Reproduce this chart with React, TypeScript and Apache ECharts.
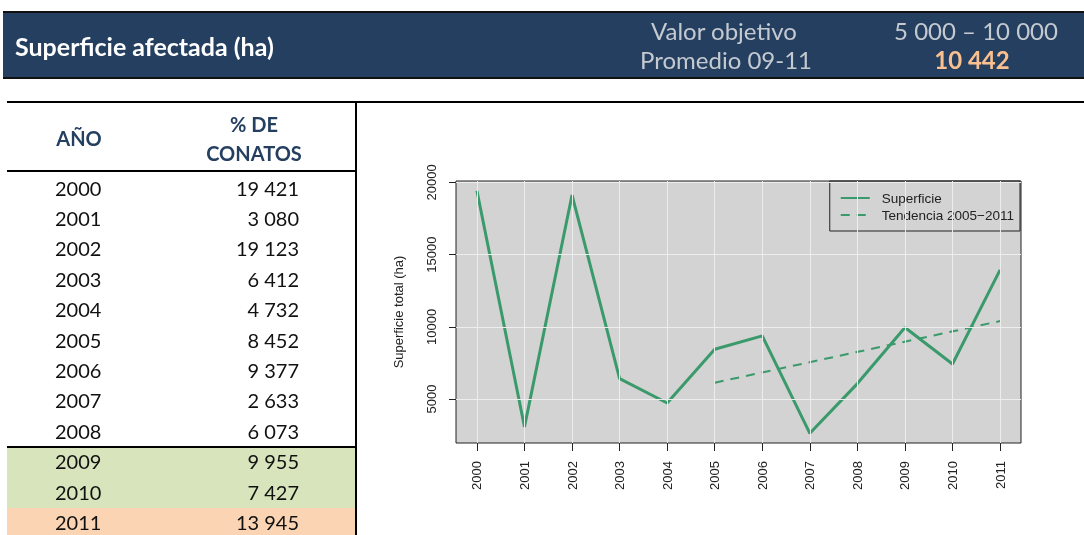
import React, { useEffect, useRef } from 'react';
import * as echarts from 'echarts';

const years = [2000, 2001, 2002, 2003, 2004, 2005, 2006, 2007, 2008, 2009, 2010, 2011];
const superficie = [19421, 3080, 19123, 6412, 4732, 8452, 9377, 2633, 6073, 9955, 7427, 13945];
const trendYears = [2005, 2011];
const trendValues = [6134, 10398];
const yTicks = [5000, 10000, 15000, 20000];

const headerTitle = 'Superficie afectada (ha)';
const objetivoLabel = 'Valor objetivo';
const objetivoValue = '5 000 – 10 000';
const promedioLabel = 'Promedio 09-11';
const promedioValue = '10 442';
const colHeaderYear = 'AÑO';
const colHeaderValue = ['% DE', 'CONATOS'];
const seriesName = 'Superficie';
const trendName = 'Tendencia 2005−2011';
const yAxisName = 'Superficie total (ha)';

const fmt = (v: number) => String(v).replace(/\B(?=(\d{3})+(?!\d))/g, ' ');

const NAVY = '#243f60';
const LINE = '#3b9a6b';
const TABLE_FONT = 'Lato, "Open Sans", sans-serif';
const CHART_FONT = '"Liberation Sans", Arial, sans-serif';

export default function App() {
  const ref = useRef<HTMLDivElement>(null);
  useEffect(() => {
    if (!ref.current) return;
    const chart = echarts.init(ref.current, null, { renderer: 'svg' });

    const rowY0 = 187.5;
    const rowStep = 30.4;

    const graphics: any[] = [
      // header bar
      { type: 'rect', shape: { x: 3, y: 11, width: 1081, height: 68 }, style: { fill: '#111' }, silent: true },
      { type: 'rect', shape: { x: 3, y: 13, width: 1081, height: 64 }, style: { fill: NAVY }, silent: true },
      { type: 'text', x: 15, y: 46, style: { text: headerTitle, fill: '#ffffff', font: `bold 25px ${TABLE_FONT}`, textVerticalAlign: 'middle' } },
      { type: 'text', x: 651, y: 30, style: { text: objetivoLabel, fill: '#c5cad1', font: `24px ${TABLE_FONT}`, textVerticalAlign: 'middle' } },
      { type: 'text', x: 640, y: 59, style: { text: promedioLabel, fill: '#c5cad1', font: `24px ${TABLE_FONT}`, textVerticalAlign: 'middle' } },
      { type: 'text', x: 976, y: 30, style: { text: objetivoValue, fill: '#c5cad1', font: `24px ${TABLE_FONT}`, textAlign: 'center', textVerticalAlign: 'middle' } },
      { type: 'text', x: 972, y: 59, style: { text: promedioValue, fill: '#fac090', font: `bold 24px ${TABLE_FONT}`, textAlign: 'center', textVerticalAlign: 'middle' } },
      // table structure
      { type: 'rect', shape: { x: 7, y: 448, width: 348, height: 60 }, style: { fill: '#d8e4bc' }, silent: true },
      { type: 'rect', shape: { x: 7, y: 508, width: 348, height: 27 }, style: { fill: '#fbd4b4' }, silent: true },
      { type: 'rect', shape: { x: 7, y: 101, width: 1077, height: 2 }, style: { fill: '#000' }, silent: true },
      { type: 'rect', shape: { x: 355, y: 101, width: 2, height: 434 }, style: { fill: '#000' }, silent: true },
      { type: 'rect', shape: { x: 7, y: 170, width: 350, height: 2 }, style: { fill: '#000' }, silent: true },
      { type: 'rect', shape: { x: 7, y: 446, width: 350, height: 2 }, style: { fill: '#000' }, silent: true },
      { type: 'text', x: 79, y: 138, style: { text: colHeaderYear, fill: NAVY, font: `bold 20px ${TABLE_FONT}`, textAlign: 'center', textVerticalAlign: 'middle' } },
      { type: 'text', x: 254, y: 124, style: { text: colHeaderValue[0], fill: NAVY, font: `bold 20px ${TABLE_FONT}`, textAlign: 'center', textVerticalAlign: 'middle' } },
      { type: 'text', x: 254, y: 153, style: { text: colHeaderValue[1], fill: NAVY, font: `bold 20px ${TABLE_FONT}`, textAlign: 'center', textVerticalAlign: 'middle' } },
    ];
    years.forEach((yr, i) => {
      const y = rowY0 + i * rowStep;
      graphics.push({ type: 'text', x: 55, y, style: { text: String(yr), fill: '#111', font: `20px ${TABLE_FONT}`, textVerticalAlign: 'middle' } });
      graphics.push({ type: 'text', x: 299, y, style: { text: fmt(superficie[i]), fill: '#111', font: `20px ${TABLE_FONT}`, textAlign: 'right', textVerticalAlign: 'middle' } });
    });

    chart.setOption({
      animation: false,
      graphic: graphics,
      grid: { left: 456, top: 181, width: 565, height: 262, show: true, backgroundColor: '#d3d3d3', borderColor: '#222', borderWidth: 1 },
      legend: {
        right: 64, top: 181, orient: 'vertical', data: [seriesName, trendName],
        itemWidth: 29, itemHeight: 14, itemGap: 3, padding: [10, 6, 9, 10],
        borderColor: '#222', borderWidth: 1, selectedMode: false,
        itemStyle: { opacity: 0 },
        textStyle: { fontSize: 13.5, fontFamily: CHART_FONT, color: '#222', padding: [0, 0, 0, 7] },
      },
      xAxis: {
        type: 'value', min: 1999.56, max: 2011.44,
        axisLine: { show: false }, splitLine: { show: false },
        axisTick: { show: true, length: 8, lineStyle: { color: '#222' }, customValues: years },
        axisLabel: { customValues: years, rotate: 90, margin: 18, fontSize: 13, fontFamily: CHART_FONT, color: '#222', formatter: (v: number) => String(v) },
      },
      yAxis: {
        type: 'value', min: 1962, max: 20092,
        axisLine: { show: false }, splitLine: { show: false },
        axisTick: { show: true, length: 7, lineStyle: { color: '#222' }, customValues: yTicks },
        axisLabel: { customValues: yTicks, rotate: 90, margin: 18, fontSize: 13, fontFamily: CHART_FONT, color: '#222', formatter: (v: number) => String(v) },
        name: yAxisName, nameLocation: 'middle', nameGap: 51,
        nameTextStyle: { fontSize: 13, fontFamily: CHART_FONT, color: '#222' },
      },
      series: [
        {
          type: 'line', name: '_grid', data: [], z: 1, silent: true,
          markLine: {
            silent: true, symbol: ['none', 'none'], label: { show: false },
            lineStyle: { color: '#ededed', width: 1, type: 'solid' },
            data: [...yTicks.map((v) => ({ yAxis: v })), ...years.map((v) => ({ xAxis: v }))],
          },
        },
        {
          type: 'line', name: seriesName, z: 3, symbol: 'none',
          data: years.map((y, i) => [y, superficie[i]]),
          lineStyle: { color: LINE, width: 3 }, itemStyle: { color: LINE },
        },
        {
          type: 'line', name: trendName, z: 3, symbol: 'none',
          data: trendYears.map((y, i) => [y, trendValues[i]]),
          lineStyle: { color: LINE, width: 2, type: [9, 7] }, itemStyle: { color: LINE },
        },
      ],
    });
    return () => chart.dispose();
  }, []);
  return <div ref={ref} style={{ position: 'fixed', left: 0, top: 0, width: 1084, height: 535 }} />;
}
